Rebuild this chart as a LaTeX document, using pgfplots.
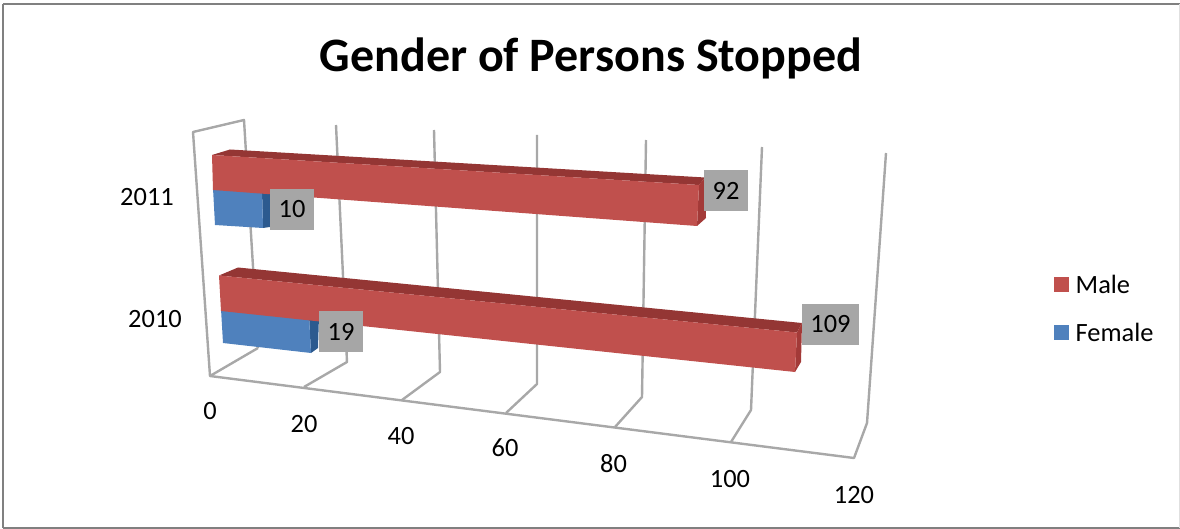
\documentclass[border=0pt]{standalone}
\usepackage{pgfplots}
\pgfplotsset{compat=1.18}
\usepackage{fontspec}
\setmainfont{Carlito}
\definecolor{grid}{HTML}{A8A8A8}
\definecolor{frame}{HTML}{808080}
\definecolor{redF}{HTML}{C0504D}
\definecolor{redT}{HTML}{943634}
\definecolor{redS}{HTML}{A33A38}
\definecolor{bluF}{HTML}{4F81BD}
\definecolor{bluS}{HTML}{2C5A8F}
\definecolor{lab}{HTML}{A6A6A6}
\pgfplotsset{
  txt/.style={only marks, mark=none, nodes near coords, point meta=explicit symbolic, nodes near coords align=center},
}
\begin{document}
\begin{tikzpicture}
\begin{axis}[
  scale only axis, width=1180pt, height=529pt,
  xmin=0, xmax=1180, ymin=0, ymax=529, y dir=reverse,
  hide axis, clip=true,
  every axis plot/.append style={line join=round},
]
\coordinate (A) at (axis cs:0,0);
\coordinate (B) at (axis cs:1180,529);
% chart frame
\addplot[draw=frame, line width=2pt] coordinates {(3,4.5) (1179.5,4.5)};
\addplot[draw=frame, line width=2.4pt] coordinates {(3,4.5) (3,528)};
\addplot[draw=frame, line width=2pt] coordinates {(3,528) (1180,528)};
\addplot[draw=black!12, line width=1pt] coordinates {(1179,4.5) (1179,528)};
% walls and floor
\addplot[draw=grid, line width=2.4pt] coordinates {(258,348) (244,120) (193,132) (210,376) (854,458) (867,423) (886,153)};
\addplot[draw=grid, line width=2.4pt] coordinates {(210,376) (258,348)};
% gridlines at 20, 40, 60, 80, 100
\addplot[draw=grid, line width=2.4pt] coordinates {(336,125) (347,362) (304,387)};
\addplot[draw=grid, line width=2.4pt] coordinates {(434,130) (440,372) (402,400)};
\addplot[draw=grid, line width=2.4pt] coordinates {(537,135) (537,384) (506,413)};
\addplot[draw=grid, line width=2.4pt] coordinates {(646,140) (642,397) (615,427)};
\addplot[draw=grid, line width=2.4pt] coordinates {(762,147) (751,410) (731,442)};
% 2011 Female
\addplot[fill=bluS, draw=none] coordinates {(262,190) (271,190) (270,227) (263,228)} -- cycle;
\addplot[fill=bluF, draw=none] coordinates {(213,188) (262,190) (263,228) (215,225)} -- cycle;
% 2011 Male
\addplot[fill=redT, draw=none] coordinates {(212,155) (230,149.5) (705,177.5) (699,185)} -- cycle;
\addplot[fill=redS, draw=none] coordinates {(699,185) (705,177.5) (706,218) (697,226)} -- cycle;
\addplot[fill=redF, draw=none] coordinates {(212,155) (699,185) (697,226) (213,190)} -- cycle;
% 2010 Female
\addplot[fill=bluS, draw=none] coordinates {(309,316) (319,316) (318,348) (311,353)} -- cycle;
\addplot[fill=bluF, draw=none] coordinates {(221,309) (309,316) (311,353) (223,343)} -- cycle;
% 2010 Male
\addplot[fill=redT, draw=none] coordinates {(219,275.5) (238,267.5) (802,323) (797,332.5)} -- cycle;
\addplot[fill=redS, draw=none] coordinates {(797,332.5) (802,323) (801,362) (795,372)} -- cycle;
\addplot[fill=redF, draw=none] coordinates {(219,275.5) (797,332.5) (795,372) (221,311)} -- cycle;
% data labels
\addplot[txt, nodes near coords style={fill=lab, text=black, anchor=center, inner sep=0pt, minimum width=44pt, minimum height=41pt, font=\fontsize{26.4}{30}\selectfont}]
  coordinates {(726,190.5) [92] (292,209.5) [10] (341,331.5) [19]};
\addplot[txt, nodes near coords style={fill=lab, text=black, anchor=center, inner sep=0pt, minimum width=57pt, minimum height=41pt, font=\fontsize{26.4}{30}\selectfont}]
  coordinates {(830.5,324.5) [109]};
% axis tick labels
\addplot[txt, nodes near coords style={text=black, anchor=center, inner sep=0pt, font=\fontsize{26.4}{30}\selectfont}]
  coordinates {(210,411) [0] (304,424) [20] (401,436) [40] (505,448) [60] (613.5,464) [80] (730,479) [100] (854,495) [120] (147,197) [2011] (155,319) [2010]};
% legend
\addplot[fill=redF, draw=none] coordinates {(1054,277) (1069,277) (1069,292) (1054,292)} -- cycle;
\addplot[fill=bluF, draw=none] coordinates {(1054,325) (1069,325) (1069,340) (1054,340)} -- cycle;
\addplot[txt, nodes near coords style={text=black, anchor=west, inner sep=0pt, font=\fontsize{26.4}{30}\selectfont}]
  coordinates {(1075.5,284) [Male] (1075.5,332) [Female]};
% title
\addplot[txt, nodes near coords style={text=black, anchor=center, inner sep=0pt, font=\fontsize{48}{56}\selectfont\bfseries}]
  coordinates {(591,58) [Gender of Persons Stopped]};
\end{axis}
\pgfresetboundingbox
\path[use as bounding box] (A |- B) rectangle (B |- A);
\end{tikzpicture}
\end{document}
